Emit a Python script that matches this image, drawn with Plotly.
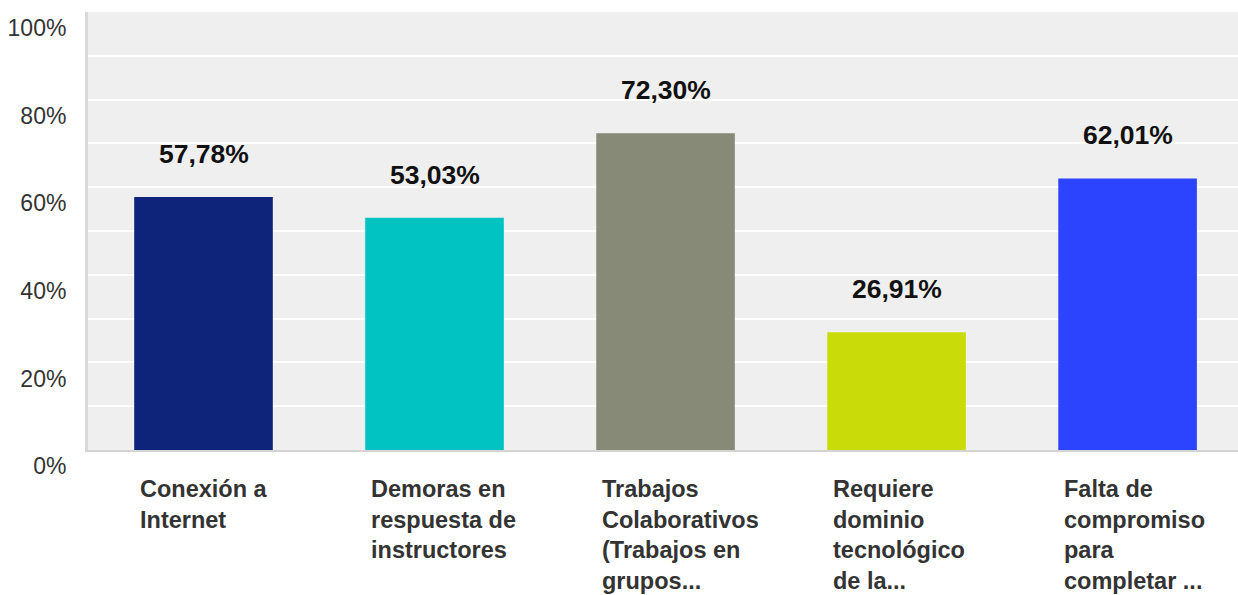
import plotly.graph_objects as go

# Categories (wrapped the same way as the reference) and their values in %
categorias = [
    "Conexión a<br>Internet",
    "Demoras en<br>respuesta de<br>instructores",
    "Trabajos<br>Colaborativos<br>(Trabajos en<br>grupos...",
    "Requiere<br>dominio<br>tecnológico<br>de la...",
    "Falta de<br>compromiso<br>para<br>completar ...",
]
valores = [57.78, 53.03, 72.30, 26.91, 62.01]
etiquetas = ["57,78%", "53,03%", "72,30%", "26,91%", "62,01%"]
colores = ["#0e247a", "#00c3c2", "#888a78", "#c9dc0a", "#2d44ff"]

ticks_y = [0, 20, 40, 60, 80, 100]
ticks_y_txt = ["0%", "20%", "40%", "60%", "80%", "100%"]

posiciones = list(range(len(categorias)))
fuente = "Liberation Sans, Arial, sans-serif"

fig = go.Figure()
fig.add_trace(go.Bar(x=posiciones, y=valores, width=0.6,
                     marker=dict(color=colores, line=dict(width=0)),
                     hoverinfo="skip"))

#Value labels above each bar
for pos, val, txt in zip(posiciones, valores, etiquetas):
    fig.add_annotation(x=pos, y=val, xref="x", yref="y", text="<b>" + txt + "</b>",
                       showarrow=False, yanchor="middle", yshift=43,
                       font=dict(size=26.5, color="#111111", family=fuente))

#Category labels, left aligned under each bar
for pos, cat in zip(posiciones, categorias):
    fig.add_annotation(x=pos - 0.3, y=0, xref="x", yref="paper", text="<b>" + cat + "</b>",
                       showarrow=False, xanchor="left", yanchor="top", align="left",
                       xshift=4, yshift=-24,
                       font=dict(size=23.5, color="#333333", family=fuente))

fig.update_layout(
    width=1238, height=595,
    margin=dict(l=88, r=0, t=12, b=145, autoexpand=False),
    paper_bgcolor="white",
    plot_bgcolor="#efefef",
    showlegend=False,
    font=dict(family=fuente, color="#333333"),
)
fig.update_xaxes(range=[-0.5, 4.478], showticklabels=False, showgrid=False, zeroline=False,
                 showline=True, linecolor="#d4d4d4", linewidth=2, automargin=False)
fig.update_yaxes(range=[0, 100], tickvals=ticks_y, ticktext=ticks_y_txt,
                 ticklabelposition="outside bottom", ticklabelstandoff=14,
                 tickfont=dict(size=23, color="#333333"),
                 showgrid=True, gridcolor="white", gridwidth=2,
                 minor=dict(dtick=10, showgrid=True, gridcolor="white", gridwidth=2),
                 zeroline=False, showline=True, linecolor="#d9d9d9", linewidth=3,
                 automargin=False)

#The page body has a default 8px margin: drop it so the figure fills the window
fig.write_html("out.html", config={"displayModeBar": False},
               post_script="document.body.style.margin='0';")
